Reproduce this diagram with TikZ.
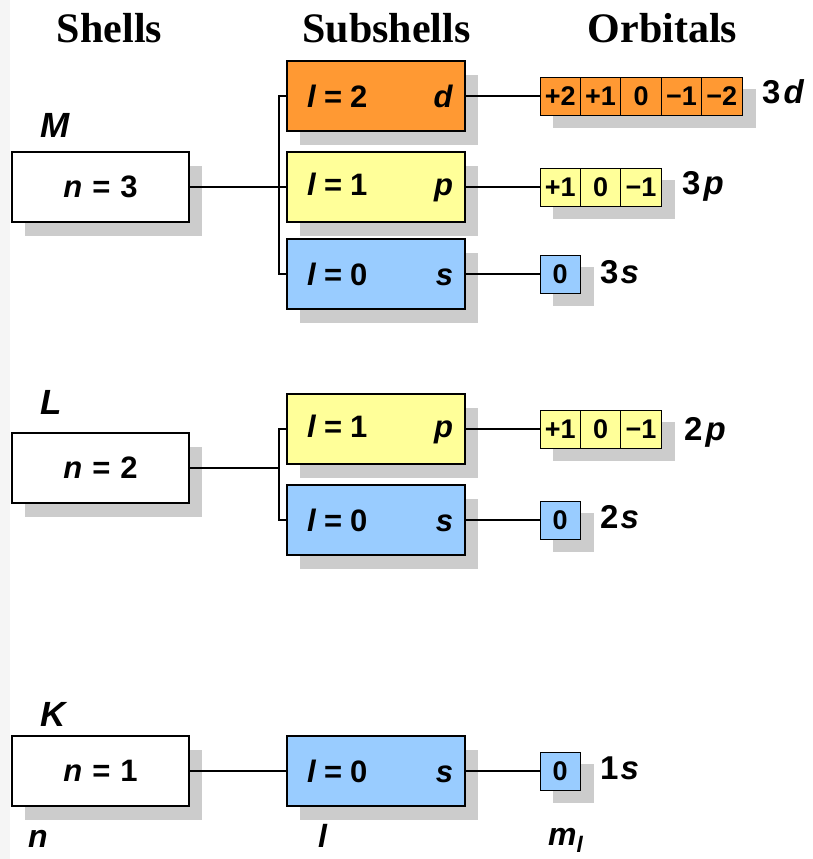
\documentclass[tikz,border=0pt]{standalone}
\usepackage{fontspec}
\setmainfont{Liberation Sans}
\newfontfamily\hdrfont{Liberation Serif}
\usetikzlibrary{shadows,backgrounds,calc}
\definecolor{dorange}{HTML}{FF9933}
\definecolor{pyellow}{HTML}{FFFF99}
\definecolor{sblue}{HTML}{99CCFF}
\definecolor{shade}{HTML}{CCCCCC}
\definecolor{stripcol}{HTML}{F5F5F5}
\tikzset{
  bigbox/.style={draw=black, line width=1.2pt, minimum width=177pt, minimum height=70pt,
    inner sep=0pt, font=\fontsize{31}{36}\selectfont\bfseries,
    drop shadow={shadow xshift=13pt, shadow yshift=-14pt, fill=shade, opacity=1}},
  shellbox/.style={bigbox, fill=white},
  dbox/.style={bigbox, fill=dorange},
  pbox/.style={bigbox, fill=pyellow},
  sbox/.style={bigbox, fill=sblue},
  cell/.style={draw=black, line width=1pt, minimum width=40.4pt, minimum height=38pt,
    inner sep=0pt, font=\fontsize{27}{30}\selectfont\bfseries},
  orblabel/.style={anchor=west, inner sep=0pt, font=\fontsize{33}{38}\selectfont\bfseries},
  shelllabel/.style={anchor=base west, inner sep=0pt, font=\fontsize{35}{40}\selectfont\bfseries\itshape},
  axislabel/.style={anchor=base west, inner sep=0pt, font=\fontsize{32}{38}\selectfont\bfseries\itshape},
  header/.style={anchor=base, inner sep=0pt, font=\fontsize{42}{50}\selectfont\hdrfont\bfseries},
  conn/.style={draw=black, line width=1.2pt},
  orbshadow/.style={fill=shade}
}
\newcommand{\subtxt}[2]{\makebox[178pt]{\hspace{20pt}\textit{l}\hspace{8pt}=\hspace{8pt}#1\hfill\textit{#2}\hspace{12pt}}}
\newcommand{\shelltxt}[1]{\textit{n}\hspace{10pt}=\hspace{10pt}#1}
\begin{document}
\begin{tikzpicture}[x=1pt,y=-1pt]
\useasboundingbox (0,0) rectangle (813,859);
\fill[stripcol] (0,0) rectangle (10,859);
% headers
\node[header] (hs) at (109.5,43) {Shells};
\node[header] (hss) at (386.5,43) {Subshells};
\node[header] (ho) at (662.5,43) {Orbitals};
% shell letters
\node[shelllabel] (lM) at (40,137) {M};
\node[shelllabel] (lL) at (40,414) {L};
\node[shelllabel] (lK) at (40,726) {K};
% shells
\node[shellbox] (n3) at (100.5,187) {\shelltxt{3}};
\node[shellbox] (n2) at (100.5,468) {\shelltxt{2}};
\node[shellbox] (n1) at (100.5,771) {\shelltxt{1}};
% subshells
\node[dbox] (sd3) at (376,96) {\subtxt{2}{d}};
\node[pbox] (sp3) at (376,187) {\subtxt{1}{p}};
\node[sbox] (ss3) at (376,274) {\subtxt{0}{s}};
\node[pbox] (sp2) at (376,429) {\subtxt{1}{p}};
\node[sbox] (ss2) at (376,520) {\subtxt{0}{s}};
\node[sbox] (ss1) at (376,771) {\subtxt{0}{s}};
% brackets
\coordinate (b3) at (279,187);
\coordinate (b2) at (279,468);
\draw[conn] (n3.east) -- (b3);
\draw[conn] (sd3.west) -| (b3) |- (ss3.west);
\draw[conn] (b3) -- (sp3.west);
\draw[conn] (n2.east) -- (b2);
\draw[conn] (sp2.west) -| (b2) |- (ss2.west);
\draw[conn] (n1.east) -- (ss1.west);
% orbitals 3d
\node[cell, fill=dorange] (d1) at (560.2,96) {+2};
\node[cell, fill=dorange] (d2) at (600.6,96) {+1};
\node[cell, fill=dorange] (d3) at (641.0,96) {0};
\node[cell, fill=dorange] (d4) at (681.4,96) {−1};
\node[cell, fill=dorange] (d5) at (721.8,96) {−2};
% 3p
\node[cell, fill=pyellow] (p31) at (560.2,187) {+1};
\node[cell, fill=pyellow] (p32) at (600.6,187) {0};
\node[cell, fill=pyellow] (p33) at (641.0,187) {−1};
% 3s
\node[cell, fill=sblue] (s3) at (560.2,274) {0};
% 2p
\node[cell, fill=pyellow] (p21) at (560.2,429) {+1};
\node[cell, fill=pyellow] (p22) at (600.6,429) {0};
\node[cell, fill=pyellow] (p23) at (641.0,429) {−1};
% 2s
\node[cell, fill=sblue] (s2) at (560.2,520) {0};
% 1s
\node[cell, fill=sblue] (s1) at (560.2,771) {0};
\begin{scope}[on background layer]
\fill[orbshadow] ($(d1.north west)+(13,12)$) rectangle ($(d5.south east)+(13,12)$);
\fill[orbshadow] ($(p31.north west)+(13,12)$) rectangle ($(p33.south east)+(13,12)$);
\fill[orbshadow] ($(s3.north west)+(13,12)$) rectangle ($(s3.south east)+(13,12)$);
\fill[orbshadow] ($(p21.north west)+(13,12)$) rectangle ($(p23.south east)+(13,12)$);
\fill[orbshadow] ($(s2.north west)+(13,12)$) rectangle ($(s2.south east)+(13,12)$);
\fill[orbshadow] ($(s1.north west)+(13,12)$) rectangle ($(s1.south east)+(13,12)$);
\end{scope}
\draw[conn] (sd3.east) -- (d1.west);
\draw[conn] (sp3.east) -- (p31.west);
\draw[conn] (ss3.east) -- (s3.west);
\draw[conn] (sp2.east) -- (p21.west);
\draw[conn] (ss2.east) -- (s2.west);
\draw[conn] (ss1.east) -- (s1.west);
% orbital labels
\node[orblabel] (o3d) at (762,92) {3\hspace{3pt}\textit{d}};
\node[orblabel] (o3p) at (682,186) {3\hspace{3pt}\textit{p}};
\node[orblabel] (o3s) at (600,272) {3\hspace{2pt}\textit{s}};
\node[orblabel] (o2p) at (684,432) {2\hspace{3pt}\textit{p}};
\node[orblabel] (o2s) at (600,517) {2\hspace{2pt}\textit{s}};
\node[orblabel] (o1s) at (600,768) {1\hspace{2pt}\textit{s}};
% bottom labels
\node[axislabel] (bn) at (28,847) {n};
\node[axislabel] (bl) at (318,847) {l};
\node[axislabel] (bm) at (548,845) {m\textsubscript{l}};
\end{tikzpicture}
\end{document}
